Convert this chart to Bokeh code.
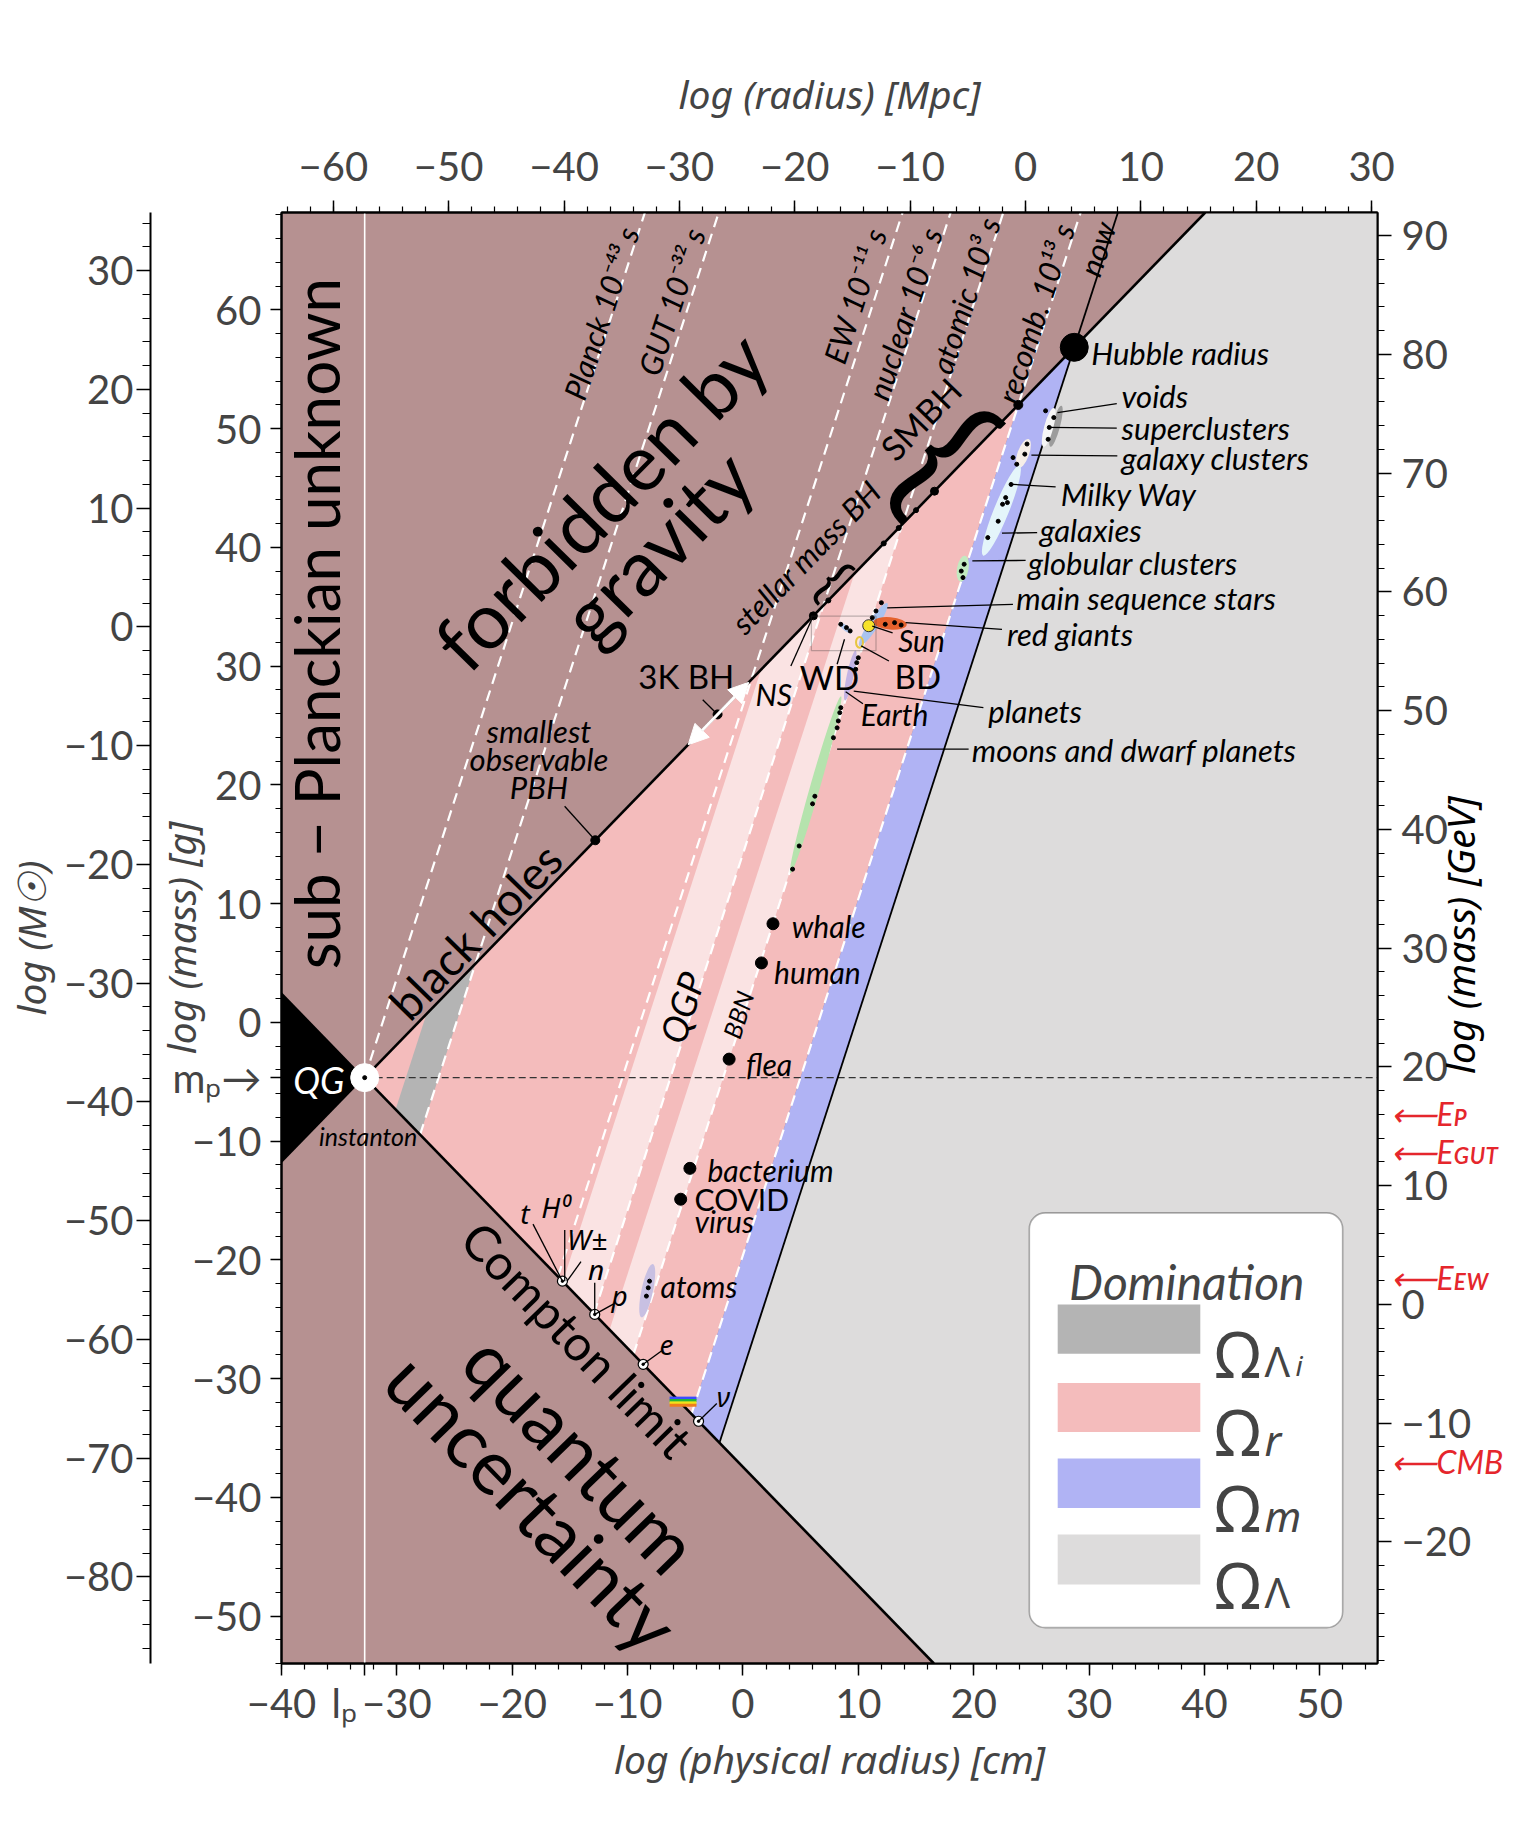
import math
from bokeh.plotting import figure
from bokeh.models import (Range1d, LinearAxis, SingleIntervalTicker, FixedTicker, ColumnDataSource,
                          Label, Arrow, NormalHead, BoxAnnotation, CustomJSTickFormatter)
from bokeh.core.properties import value
from bokeh.embed import file_html
from bokeh.resources import INLINE

# ======================= values =======================
log_planck_length = -32.79     # log cm
log_planck_mass = -4.66        # log g
log_cm_per_mpc = 24.49
log_g_per_msun = 33.30
log_gev_per_g = 23.75

x_limits = [-40.0, 55.0]
y_limits = [-54.0, 68.2]

cm_ticks = list(range(-40, 51, 10))
g_ticks = list(range(-50, 61, 10))
gev_major_ticks = list(range(-20, 91, 10))

# constant-density lines: log M = 3 log R + intercept
epoch_names = ["Planck 10⁻⁴³ s", "GUT 10⁻³² s", "EW 10⁻¹¹ s",
               "nuclear 10⁻⁶ s", "atomic 10³ s", "recomb. 10¹³ s"]
epoch_intercepts = [93.7, 74.5, 26.7, 14.2, 0.5, -19.6]
now_intercept = -29.3
inflation_start_intercept = 83.0
qgp_start_intercept = 25.0
bbn_start_intercept = 8.8

# black holes on the Schwarzschild line (log radius)
bh_names = ["smallest observable PBH", "3K BH", "NS", "stellar BH",
            "SMBH 1", "SMBH 2", "SMBH 3", "SMBH 4"]
bh_logr = [-12.8, -2.2, 6.1, 7.4, 12.2, 13.5, 15.0, 16.6]

life_names = ["whale", "human", "flea", "bacterium", "COVID virus"]
life_logr = [2.6, 1.6, -1.2, -4.6, -5.4]
life_logm = [8.3, 5.0, -3.1, -12.3, -14.9]

particle_names = ["t H⁰ W±", "n p", "e", "ν"]
particle_logm = [-21.8, -24.6, -28.8, -33.6]

extended_names = ["voids", "superclusters", "galaxy clusters", "galaxies",
                  "globular clusters", "main sequence stars", "red giants",
                  "white dwarfs", "planets", "moons and dwarf planets", "atoms"]
extended_logr = [27.13, 26.5, 24.3, 22.4, 19.05, 11.3, 12.75, 8.9, 9.3, 6.3, -8.3]
extended_logm = [50.2, 50.1, 47.9, 43.1, 38.2, 33.5, 33.6, 33.2, 29.2, 20.0, -22.6]
extended_spread_r = [0.7, 0.8, 1.0, 1.3, 1.0, 0.85, 2.9, 1.4, 0.6, 0.85, 1.0]
extended_spread_m = [3.6, 3.4, 2.6, 8.2, 2.2, 4.3, 1.05, 0.45, 4.3, 15.5, 4.6]

member_logr = [26.23, 26.94, 26.55, 26.45, 24.62, 24.43, 23.73, 23.41, 23.24,
               22.77, 22.92, 22.5, 22.12, 21.22, 19.17, 18.92, 19.07,
               12.0, 11.53, 11.21, 10.73, 12.33, 13.14, 13.71, 8.48, 8.97, 9.29,
               10.0, 9.86, 9.77, 8.48, 8.39, 8.26, 8.16, 7.84, 6.23, 6.03, 4.87, 4.3,
               -8.1, -8.21, -8.37]
member_logm = [51.5, 50.93, 50.1, 49.1, 48.7, 47.85, 47.0, 47.56, 45.3,
               44.19, 43.77, 43.63, 42.2, 40.82, 38.58, 38.0, 37.45,
               35.34, 34.64, 34.08, 33.24, 33.52, 33.66, 33.46, 33.52, 33.24, 32.96,
               30.7, 30.29, 29.73, 26.5, 26.08, 25.38, 24.8, 23.97, 19.04, 18.4, 14.85, 12.9,
               -21.8, -22.36, -23.06]

star_names = ["Sun", "BD"]
star_logr = [10.9, 10.1]
star_logm = [33.4, 32.0]

photon_logm = [-31.65, -31.85, -32.05, -32.25]
photon_logr_span = [-6.36, -4.03]

energy_names = ["⟵Eᴘ", "⟵Eɢᴜᴛ", "⟵Eᴇᴡ", "⟵CMB"]
energy_log_gev = [19.09, 14.9, 2.4, -12.6]

legend_names = ["Λ", "r", "m", "Λ"]

# ======================= styles / layout =======================
BROWN = "#b69191"
PINK = "#f4bcbc"
LIGHT_PINK = "#fae3e3"
BLUE = "#b0b3f4"
LGRAY = "#dddcdc"
GRAY = "#b4b4b4"
RED = "#e5262c"
FONT = "Lato"
GREEK = "Noto Sans"
energy_label_gev = [16.1, 12.9, 2.3, -13.2]     # where the red labels sit
gev_title_start = 19.4                           # where the right-hand axis title starts

k_bh = log_planck_mass - log_planck_length        # Schwarzschild: log M = log R + k_bh
k_qu = log_planck_mass + log_planck_length        # Compton:       log M = -log R + k_qu


def bh(x):
    return x + k_bh


def compton(x):
    return -x + k_qu


def x_bh(c):
    return (k_bh - c) / 2.0


def x_cmp(c):
    return (k_qu - c) / 4.0


def x_top(c):
    return (y_limits[1] - c) / 3.0


p = figure(frame_width=1096, frame_height=1451,
           x_range=Range1d(*x_limits), y_range=Range1d(*y_limits),
           output_backend="svg", toolbar_location=None,
           min_border_left=272, min_border_right=140,
           min_border_top=212, min_border_bottom=155,
           background_fill_color=BROWN, border_fill_color="white",
           outline_line_color="black", outline_line_width=2)
p.grid.visible = False
p.extra_x_ranges = {"mpc": Range1d(x_limits[0] - log_cm_per_mpc, x_limits[1] - log_cm_per_mpc)}
p.extra_y_ranges = {"msun": Range1d(y_limits[0] - log_g_per_msun, y_limits[1] - log_g_per_msun),
                    "gev": Range1d(y_limits[0] + log_gev_per_g, y_limits[1] + log_gev_per_g)}

NUM_CODE = """
for (let i = 0; i < sv.length; i++) { if (Math.abs(tick - sv[i]) < 1e-6) return st[i]; }
return (tick < 0 ? '\\u2212' : '') + Math.abs(Math.round(tick));
"""
ONLY_CODE = """
for (let i = 0; i < sv.length; i++) { if (Math.abs(tick - sv[i]) < 1e-6) return st[i]; }
return '';
"""


def style_axis(ax, label, tick_out, minor_out, standoff, label_standoff, ticker=None,
               special_vals=(), special_texts=()):
    ax.ticker = ticker if ticker is not None else SingleIntervalTicker(interval=10, num_minor_ticks=5)
    ax.formatter = CustomJSTickFormatter(args=dict(sv=list(special_vals), st=list(special_texts)),
                                         code=NUM_CODE)
    ax.axis_label = label
    ax.axis_label_text_font = "Noto Sans"
    ax.axis_label_text_font_style = "italic"
    ax.axis_label_text_font_size = "39px"
    ax.axis_label_standoff = label_standoff
    ax.major_label_text_font = FONT
    ax.major_label_text_font_size = "40px"
    ax.major_label_standoff = standoff
    ax.major_tick_out = tick_out
    ax.major_tick_in = 0
    ax.minor_tick_out = minor_out
    ax.minor_tick_in = 0
    ax.axis_line_width = 2
    ax.major_tick_line_width = 1.5
    ax.minor_tick_line_width = 1.2


def text_only_axis(ax, ticks, texts, color, size, style, standoff, font=FONT):
    ax.ticker = FixedTicker(ticks=list(ticks), minor_ticks=[])
    ax.formatter = CustomJSTickFormatter(args=dict(sv=list(ticks), st=list(texts)), code=ONLY_CODE)
    ax.axis_line_color = None
    ax.major_tick_line_color = None
    ax.minor_tick_line_color = None
    ax.major_tick_out = 0
    ax.major_tick_in = 0
    ax.minor_tick_out = 0
    ax.minor_tick_in = 0
    ax.major_label_text_color = color
    ax.major_label_text_font = font
    ax.major_label_text_font_style = style
    ax.major_label_text_font_size = size
    ax.major_label_standoff = standoff


lp, mp = log_planck_length, log_planck_mass

style_axis(p.below[0], "log (physical radius) [cm]", 12, 6, 3, 2,
           ticker=FixedTicker(ticks=cm_ticks + [lp], minor_ticks=list(range(-40, 56, 2))),
           special_vals=[lp], special_texts=["lₚ\u00a0\u00a0\u00a0\u00a0"])
style_axis(p.left[0], "log (mass) [g]", 11, 6, 9, -37,
           ticker=FixedTicker(ticks=g_ticks + [mp], minor_ticks=list(range(-54, 69, 2))),
           special_vals=[mp], special_texts=["mₚ→"])
top_axis = LinearAxis(x_range_name="mpc")
style_axis(top_axis, "log (radius) [Mpc]", 12, 6, 20, 29)
p.add_layout(top_axis, "above")
outer_axis = LinearAxis(y_range_name="msun")
style_axis(outer_axis, "log (M☉)", 14, 8, 3, 4)
p.add_layout(outer_axis, "left")
right_axis = LinearAxis(y_range_name="gev")
style_axis(right_axis, None, 14, 7, 10, 0,
           ticker=FixedTicker(ticks=gev_major_ticks, minor_ticks=list(range(-30, 93, 2))))
p.add_layout(right_axis, "right")

# right-hand axis title, written bottom-to-top
gev_title_axis = LinearAxis(y_range_name="gev")
text_only_axis(gev_title_axis, [gev_title_start], ["log (mass) [GeV]"], "black", "39px",
               "italic", -15, font="Noto Sans")
gev_title_axis.major_label_orientation = math.pi / 2
p.add_layout(gev_title_axis, "right")

# red energy-scale labels
energy_axis = LinearAxis(y_range_name="gev")
text_only_axis(energy_axis, energy_label_gev, energy_names, RED, "32px", "italic", -125)
p.add_layout(energy_axis, "right")

# ======================= regions =======================
rec, now = epoch_intercepts[5], now_intercept


def band(c1, c2):
    xs = [x_bh(c1), x_bh(c2), x_cmp(c2), x_cmp(c1)]
    ys = [bh(xs[0]), bh(xs[1]), compton(xs[2]), compton(xs[3])]
    return xs, ys


pink_x = [lp, x_bh(rec), x_cmp(rec)]
pink_y = [mp, bh(x_bh(rec)), compton(x_cmp(rec))]
p.patch(pink_x, pink_y, fill_color=PINK, line_color=None)

for c1, c2, col in [(inflation_start_intercept, epoch_intercepts[1], GRAY),
                    (qgp_start_intercept, epoch_intercepts[3], LIGHT_PINK),
                    (bbn_start_intercept, epoch_intercepts[4], LIGHT_PINK),
                    (rec, now, BLUE)]:
    bx, by = band(c1, c2)
    p.patch(bx, by, fill_color=col, line_color=None)

lg_x = [x_cmp(now), x_bh(now), y_limits[1] - k_bh, x_limits[1], x_limits[1], k_qu - y_limits[0]]
lg_y = [compton(x_cmp(now)), bh(x_bh(now)), y_limits[1], y_limits[1], y_limits[0], y_limits[0]]
p.patch(lg_x, lg_y, fill_color=LGRAY, line_color=None)

qg_x = [x_limits[0], lp, x_limits[0]]
qg_y = [compton(x_limits[0]), mp, bh(x_limits[0])]
p.patch(qg_x, qg_y, fill_color="black", line_color=None)

# ======================= lines =======================
p.line([lp, lp], y_limits, line_color="white", line_width=1.6)
p.multi_line([[x_cmp(c), x_top(c)] for c in epoch_intercepts],
             [[compton(x_cmp(c)), y_limits[1]] for c in epoch_intercepts],
             line_color="white", line_width=2.2, line_dash="11 7")
p.line([lp, x_limits[1]], [mp, mp], line_color="#333333", line_width=1.3, line_dash="7 4")
p.line([lp, y_limits[1] - k_bh], [mp, y_limits[1]], line_color="black", line_width=2.6)
p.line([lp, k_qu - y_limits[0]], [mp, y_limits[0]], line_color="black", line_width=2.6)
p.line([x_cmp(now), x_top(now)], [compton(x_cmp(now)), y_limits[1]], line_color="black", line_width=1.8)

p.multi_line([photon_logr_span for _ in photon_logm], [[m, m] for m in photon_logm],
             line_color=["#3a4cff", "#21b53c", "#f2e21a", "#ef7d1c"], line_width=3)

# ======================= extended objects =======================
ell_angle = [-15, -15, -20, -22, -10, -33, -5, -38, -12, -16, -12]
ell_color = ["#9c9c9c", "#f6f6f6", "#f6eee8", "#e4f5fa", "#c2eac0", "#a9c3ef",
             "#e5622d", "#b3c9ee", "#c4b4e4", "#b5e3ad", "#c8c0e2"]
p.ellipse(x=extended_logr, y=extended_logm, width=extended_spread_r, height=extended_spread_m,
          angle=[math.radians(a) for a in ell_angle], fill_color=ell_color, line_color=None)
p.scatter(member_logr, member_logm, size=4, color="black")
p.scatter(star_logr[:1], star_logm[:1], size=12, fill_color="#f7e22a", line_color="#333333")
p.ellipse(x=star_logr[1:], y=star_logm[1:], width=0.6, height=0.9,
          fill_color=None, line_color="#e6c640", line_width=2)

p.add_layout(BoxAnnotation(left=5.93, right=11.53, bottom=31.3, top=34.2,
                           fill_alpha=0, line_color="#333333", line_width=1.2))

# ======================= points =======================
p.scatter(bh_logr, [bh(x) for x in bh_logr], size=[9, 9, 8, 5, 5, 5, 5, 8], color="black")
p.scatter([x_bh(rec)], [bh(x_bh(rec))], size=9, color="black")
hub_x = x_bh(now)
p.scatter([hub_x], [bh(hub_x)], size=28, color="black")
p.scatter(life_logr, life_logm, size=12, color="black")
part_x = [k_qu - m for m in particle_logm]
p.scatter(part_x, particle_logm, size=10, fill_color="white", line_color="black", line_width=1.2)
p.scatter(part_x, particle_logm, size=2.5, color="black")
p.scatter([lp], [mp], size=28, fill_color="white", line_color="white")
p.scatter([lp], [mp], size=4, color="black")

p.add_layout(Arrow(start=NormalHead(size=20, fill_color="white", line_color="white"),
                   end=NormalHead(size=20, fill_color="white", line_color="white"),
                   x_start=-4.75, y_start=bh(-4.75), x_end=0.5, y_end=bh(0.5),
                   line_color="white", line_width=3))

# ======================= leader lines =======================
leaders = [
    (32.4, 52.1, 27.26, 51.35), (32.4, 50.04, 26.45, 50.1), (32.45, 47.7, 25.0, 47.76),
    (27.1, 45.1, 23.4, 45.3), (25.5, 41.24, 22.45, 41.19), (24.5, 38.9, 19.88, 38.86),
    (23.4, 35.2, 12.5, 34.9), (22.45, 33.1, 14.1, 33.66), (20.84, 26.5, 9.6, 27.9),
    (19.56, 23.0, 8.16, 23.0), (12.97, 32.8, 11.21, 33.36), (12.65, 30.43, 10.25, 31.7),
    (8.16, 30.15, 8.8, 32.26), (4.15, 30.0, bh_logr[2], bh(bh_logr[2])),
    (10.4, 26.83, 8.9, 27.84), (-3.49, 27.17, bh_logr[1], bh(bh_logr[1])),
    (-15.46, 18.2, bh_logr[0], bh(bh_logr[0])),
    (-18.2, -17.0, part_x[0], particle_logm[0]), (part_x[0] + 0.2, -17.5, part_x[0] + 0.2, particle_logm[0]),
    (-14.04, -20.16, part_x[0] + 0.4, particle_logm[0]),
    (part_x[1], -21.94, part_x[1], particle_logm[1]), (-11.2, -23.71, part_x[1], particle_logm[1]),
    (-7.04, -27.66, part_x[2], particle_logm[2]), (-2.27, -32.1, part_x[3], particle_logm[3]),
]
p.segment(x0=[s[0] for s in leaders], y0=[s[1] for s in leaders],
          x1=[s[2] for s in leaders], y1=[s[3] for s in leaders],
          line_color="black", line_width=1.3)


# ======================= texts =======================
def add_texts(items, size, style="italic", color="black", align="left",
              baseline="middle", angle=0.0, font=FONT):
    src = ColumnDataSource(dict(x=[i[1] for i in items], y=[i[2] for i in items],
                                t=[i[0] for i in items]))
    p.text(x="x", y="y", text="t", source=src, angle=angle,
           text_font=value(font), text_font_size=f"{size}px", text_font_style=style,
           text_color=color, text_align=align, text_baseline=baseline)


add_texts([("Hubble radius", 30.18, 56.37), ("voids", 32.82, 52.72),
           ("superclusters", 32.82, 50.05), ("galaxy clusters", 32.82, 47.49),
           ("Milky Way", 27.55, 44.53), ("galaxies", 25.72, 41.47),
           ("globular clusters", 24.71, 38.71), ("main sequence stars", 23.69, 35.75),
           ("red giants", 22.88, 32.7), ("planets", 21.26, 26.19),
           ("moons and dwarf planets", 19.84, 22.93)], 31)
add_texts([("Sun", 13.45, 32.2), ("Earth", 10.2, 25.99), ("whale", 4.22, 8.14),
           ("human", 2.7, 4.2), ("flea", 0.26, -3.5), ("bacterium", -3.08, -12.47),
           ("virus", -4.2, -16.71), ("atoms", -7.14, -22.23), ("NS", 1.08, 27.67)], 30)
add_texts([("3K BH", -9.07, 29.15), ("WD", 4.93, 29.05), ("BD", 13.14, 29.15)], 33, style="normal")
add_texts([("COVID", -4.2, -14.84)], 30, style="normal")
add_texts([("smallest", -17.69, 24.51), ("observable", -17.69, 22.15), ("PBH", -17.69, 19.78)],
          31, align="center")
add_texts([("QG", -38.99, -4.88)], 36, color="white")
add_texts([("instanton", -36.75, -9.61)], 25)
add_texts([("t", -19.31, -16.02), ("H⁰", -17.49, -15.53), ("W±", -15.25, -18.29),
           ("n", -13.43, -20.75), ("p", -11.4, -23.0), ("e", -7.24, -27.16),
           ("ν", -2.27, -31.5)], 28, font=GREEK)

add_texts([("sub − Planckian unknown", -37.0, 33.58)], 62, style="normal",
          align="center", angle=math.pi / 2)
add_texts([("forbidden by", -12.4, 44.0), ("gravity", -7.5, 40.1)], 78, style="normal",
          align="center", angle=math.radians(45.5))
add_texts([("black holes", -23.2, 7.7)], 46, style="normal", align="center",
          angle=math.radians(45.8))
add_texts([("Compton limit", -14.34, -26.67)], 49, style="normal", align="center",
          angle=math.radians(-45.8))
add_texts([("quantum", -13.94, -36.24), ("uncertainty", -18.2, -40.38)], 76, style="normal",
          align="center", angle=math.radians(-45.8))
add_texts([("QGP", -5.31, 1.24)], 36, align="center", angle=math.radians(72))
add_texts([("BBN", -0.45, 0.65)], 25, align="center", angle=math.radians(72))
add_texts([("stellar mass BH", 5.44, 39.21)], 31, align="center", angle=math.radians(45.8))
add_texts([("SMBH", 15.38, 50.84)], 34, style="normal", align="center", angle=math.radians(45.8))
epoch_pos = [(-12.3, 59.7), (-6.2, 60.7), (9.7, 61.2), (14.0, 59.7), (19.25, 61.2),
             (25.35, 59.7)]
add_texts([(n, xy[0], xy[1]) for n, xy in zip(epoch_names, epoch_pos)] + [("now", 30.69, 65.14)],
          31, align="center", angle=math.radians(72))
add_texts([("{", 8.0, 37.3)], 58, style="normal", align="center", angle=math.radians(-45.8))
add_texts([("{", 17.9, 48.0)], 160, style="normal", align="center", angle=math.radians(-45.8))

# ======================= legend =======================
p.add_layout(BoxAnnotation(left=24.82, right=51.98, top=-16.05, bottom=-50.98,
                           fill_color="white", fill_alpha=1, line_color="black",
                           line_width=1.6, border_radius=16))
sw_top = [-23.76, -30.37, -36.74, -43.14]
sw_bot = [-27.92, -34.5, -40.9, -47.35]
for col, t, b in zip([GRAY, PINK, BLUE, LGRAY], sw_top, sw_bot):
    p.add_layout(BoxAnnotation(left=27.28, right=39.64, top=t, bottom=b, fill_color=col,
                               fill_alpha=1, line_color=None))
p.add_layout(Label(x=38.47, y=-21.8, text="Domination", text_font=FONT, text_font_size="48px",
                   text_font_style="italic", text_align="center", text_baseline="alphabetic"))
for name, b in zip(legend_names, sw_bot):
    p.add_layout(Label(x=40.9, y=b, text="Ω", text_font=GREEK, text_font_size="64px",
                       text_baseline="alphabetic"))
    p.add_layout(Label(x=45.2, y=b - 0.6, text=name, text_font=GREEK, text_font_size="42px",
                       text_font_style="italic" if name in ("r", "m") else "normal",
                       text_baseline="alphabetic"))
p.add_layout(Label(x=47.9, y=sw_bot[0] - 0.9, text="i", text_font=GREEK, text_font_size="28px",
                   text_font_style="italic", text_baseline="alphabetic"))

open("out.html", "w").write(file_html(p, INLINE))
